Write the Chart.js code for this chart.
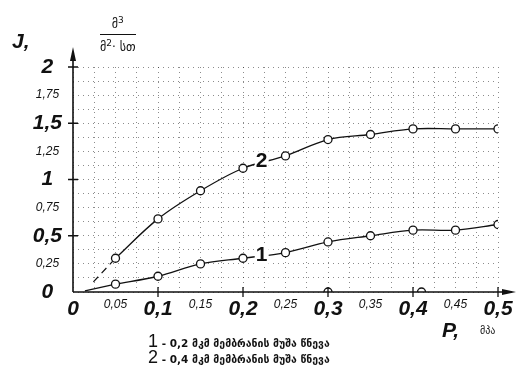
<!DOCTYPE html>
<html>
<head>
<meta charset="utf-8">
<script src="https://cdn.jsdelivr.net/npm/chart.js@4"></script>
<style>
  html, body { margin: 0; padding: 0; background: #fff; }
  #wrap { position: relative; width: 519px; height: 367px; font-family: 'DejaVu Sans', sans-serif; color: #111; overflow: hidden; }
  canvas { position: absolute; left: 0; top: 0; }
  .lbl { position: absolute; white-space: nowrap; }
  .big { font-family: 'Liberation Sans', sans-serif; font-style: italic; font-weight: bold; font-size: 21px; }
  .frac { position: absolute; left: 100px; top: 15px; text-align: center; font-size: 12px; font-family: 'DejaVu Sans', sans-serif; }
  .frac .num { border-bottom: 1.2px solid #111; padding: 0 8px 3px 8px; }
  .frac .den { padding-top: 3px; }
  .frac sup { font-size: 9px; }
  .note { font-size: 10.5px; font-weight: bold; line-height: 1; }
  .note b { font-family: 'Liberation Sans', sans-serif; font-size: 18px; font-weight: normal; }
</style>
</head>
<body>
<div id="wrap">
  <canvas id="flux-chart" width="519" height="367"></canvas>
  <div class="lbl big" style="left:12px; top:29px;">J,</div>
  <div class="frac"><div class="num">მ<sup>3</sup></div><div class="den">მ<sup>2</sup>· სთ</div></div>
  <div class="lbl big" style="left:442px; top:318px;">P,</div>
  <div class="lbl" style="left:480px; top:325px; font-size:10px;">მპა</div>
  <div class="lbl note" style="left:148px; top:332px;"><b>1</b> - 0,2 მკმ მემბრანის მუშა წნევა</div>
  <div class="lbl note" style="left:148px; top:348px;"><b>2</b> - 0,4 მკმ მემბრანის მუშა წნევა</div>
</div>
<script>
/* Membrane flux J vs working pressure P */

const pressure = [0.05, 0.1, 0.15, 0.2, 0.25, 0.3, 0.35, 0.4, 0.45, 0.5];
const flux1 = [0.07, 0.14, 0.25, 0.30, 0.35, 0.445, 0.50, 0.55, 0.55, 0.60];
const flux2 = [0.30, 0.65, 0.90, 1.10, 1.21, 1.355, 1.40, 1.45, 1.45, 1.45];

// short lead-in segments from the origin
const leadX1 = [0.014, 0.05];
const leadY1 = [0.01, 0.07];
const leadX2 = [0.024, 0.05];
const leadY2 = [0.09, 0.30];

// stray circles on the P axis
const strayX = [0.3, 0.41];
const strayY = [0, 0];

// curve number labels
const curveTags = [
    { text: '2', x: 0.222, y: 1.16 },
    { text: '1', x: 0.222, y: 0.33 }
];

const pts = (xs, ys) => xs.map((x, i) => ({ x, y: ys[i] }));
const fmt = v => String(v).replace('.', ',');

const tickFont = (c, unit) => {
    const v = c.tick ? c.tick.value : 0;
    const major = Math.round(v * 1000) % unit === 0;
    return {
        family: "'Liberation Sans', sans-serif",
        style: 'italic',
        weight: major ? 'bold' : 'normal',
        size: major ? 21 : 12
    };
};

const axesPlugin = {
    id: 'axesDecor',
    afterDatasetsDraw(chart) {
        const { ctx, chartArea: a, scales: { x, y } } = chart;
        ctx.save();
        ctx.strokeStyle = '#111';
        ctx.fillStyle = '#111';
        ctx.lineWidth = 1.6;
        // axis lines with arrows
        ctx.beginPath();
        ctx.moveTo(a.left, a.bottom);
        ctx.lineTo(a.left, a.top - 14);
        ctx.moveTo(a.left, a.bottom);
        ctx.lineTo(a.right + 14, a.bottom);
        ctx.stroke();
        ctx.beginPath();
        ctx.moveTo(a.left, a.top - 20);
        ctx.lineTo(a.left - 3, a.top - 6);
        ctx.lineTo(a.left + 3, a.top - 6);
        ctx.closePath();
        ctx.fill();
        ctx.beginPath();
        ctx.moveTo(a.right + 18, a.bottom);
        ctx.lineTo(a.right + 4, a.bottom - 3);
        ctx.lineTo(a.right + 4, a.bottom + 3);
        ctx.closePath();
        ctx.fill();
        // major tick crosses
        ctx.lineWidth = 1.3;
        ctx.beginPath();
        [0.1, 0.2, 0.3, 0.4, 0.5].forEach(v => {
            const px = x.getPixelForValue(v);
            ctx.moveTo(px, a.bottom - 5);
            ctx.lineTo(px, a.bottom + 5);
        });
        [0.5, 1, 1.5, 2].forEach(v => {
            const py = y.getPixelForValue(v);
            ctx.moveTo(a.left - 5, py);
            ctx.lineTo(a.left + 5, py);
        });
        ctx.stroke();
        // curve numbers
        ctx.font = "bold 21px 'Liberation Sans', sans-serif";
        ctx.textAlign = 'center';
        ctx.textBaseline = 'middle';
        curveTags.forEach(t => {
            const px = x.getPixelForValue(t.x);
            const py = y.getPixelForValue(t.y);
            ctx.fillStyle = '#fff';
            ctx.fillRect(px - 7, py - 10, 14, 20);
            ctx.fillStyle = '#111';
            ctx.fillText(t.text, px, py);
        });
        ctx.restore();
    }
};

const lineStyle = {
    borderColor: '#111',
    borderWidth: 1.3,
    pointRadius: 4,
    pointBackgroundColor: '#fff',
    pointBorderColor: '#111',
    pointBorderWidth: 1.3,
    tension: 0.35,
    fill: false
};

const gridStyle = { color: 'rgba(0,0,0,0.45)', lineWidth: 1, drawTicks: false };
const dotted = { display: false, dash: [1, 4] };

new Chart(document.getElementById('flux-chart'), {
    type: 'scatter',
    data: {
        datasets: [
            { label: '1', data: pts(pressure, flux1), showLine: true, ...lineStyle },
            { label: '2', data: pts(pressure, flux2), showLine: true, ...lineStyle },
            { label: 'lead1', data: pts(leadX1, leadY1), showLine: true, borderColor: '#111', borderWidth: 1.2, pointRadius: 0 },
            { label: 'lead2', data: pts(leadX2, leadY2), showLine: true, borderColor: '#111', borderWidth: 1.2, borderDash: [7, 5], pointRadius: 0 },
            { label: 'stray', data: pts(strayX, strayY), showLine: false, pointRadius: 4, pointBackgroundColor: '#fff', pointBorderColor: '#111', pointBorderWidth: 1.3 }
        ]
    },
    options: {
        responsive: false,
        animation: false,
        layout: { padding: { top: 67, right: 21, left: 0, bottom: 0 } },
        scales: {
            x: {
                type: 'linear',
                min: 0,
                max: 0.5,
                afterFit: s => { s.height = 75; },
                border: dotted,
                grid: gridStyle,
                ticks: {
                    stepSize: 0.025,
                    autoSkip: false,
                    maxRotation: 0,
                    padding: 5,
                    color: '#111',
                    callback: v => Math.round(v * 1000) % 50 === 0 ? fmt(Math.round(v * 100) / 100) : '',
                    font: c => tickFont(c, 100)
                }
            },
            y: {
                min: 0,
                max: 2,
                afterFit: s => { s.width = 73; },
                border: dotted,
                grid: gridStyle,
                ticks: {
                    stepSize: 0.125,
                    autoSkip: false,
                    padding: 11,
                    crossAlign: 'center',
                    color: '#111',
                    callback: v => Math.round(v * 1000) % 250 === 0 ? fmt(Math.round(v * 100) / 100) : '',
                    font: c => tickFont(c, 500)
                }
            }
        },
        plugins: {
            legend: { display: false },
            tooltip: { enabled: false }
        }
    },
    plugins: [axesPlugin]
});
</script>
</body>
</html>
